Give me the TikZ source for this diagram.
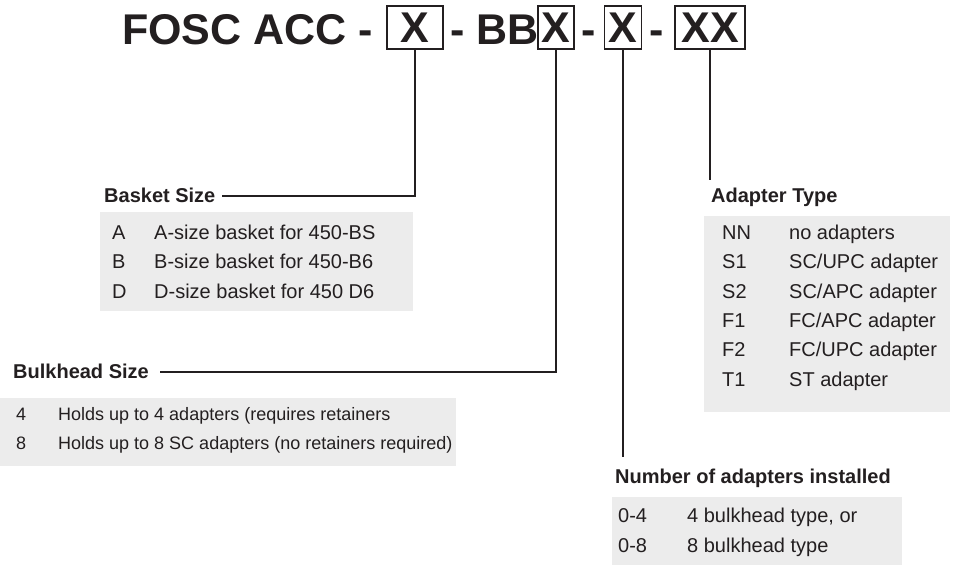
\documentclass[tikz,border=0pt]{standalone}
\usepackage{fontspec}
\setmainfont{Liberation Sans}
\usetikzlibrary{calc}
\definecolor{txt}{HTML}{231F20}
\definecolor{graybg}{HTML}{ECECEC}
\begin{document}
\begin{tikzpicture}[x=1pt,y=-1pt,
  title/.style={inner sep=0pt, text=txt, font=\fontsize{43}{43}\selectfont\bfseries},
  xbox/.style={title, draw=txt, line width=1.3pt, minimum height=43pt, anchor=center},
  head/.style={inner sep=0pt, text=txt, font=\fontsize{20}{20}\selectfont\bfseries, anchor=base west},
  body/.style={inner sep=0pt, text=txt, font=\fontsize{20}{20}\selectfont, anchor=base west},
  smallbody/.style={body, font=\fontsize{18}{18}\selectfont},
  panel/.style={fill=graybg, draw=none, inner sep=0pt, anchor=north west},
  conn/.style={draw=txt, line width=1.1pt}]
\useasboundingbox (0,0) rectangle (954,565);
% title
\node[title, anchor=base west] (t1) at (122,44) {FOSC ACC -};
\node[xbox, minimum width=56pt] (b1) at (415,27.5) {X};
\node[title, anchor=base east] (t2) at (539,44) {- BB};
\node[xbox, minimum width=36pt] (b2) at (556,27.5) {X};
\node[title, anchor=base] (t3) at (589,44) {-};
\node[xbox, minimum width=37pt] (b3) at (623,27.5) {X};
\node[title, anchor=base] (t4) at (657,44) {-};
\node[xbox, minimum width=70pt] (b4) at (710,27.5) {XX};
% panels
\node[panel, minimum width=313pt, minimum height=99pt] (pbasket) at (100,212) {};
\node[panel, minimum width=456pt, minimum height=68pt] (pbulk) at (0,398) {};
\node[panel, minimum width=246pt, minimum height=196pt] (padapt) at (704,216) {};
\node[panel, minimum width=290pt, minimum height=68pt] (pnum) at (612,497) {};
% headings
\node[head] (hbasket) at (104,202) {Basket Size};
\node[head] (hbulk) at (13,378) {Bulkhead Size};
\node[head] (hadapt) at (711,202) {Adapter Type};
\node[head] (hnum) at (615,483) {Number of adapters installed};
% connectors
\coordinate (c1) at (222,196);
\coordinate (c2) at (160,372);
\coordinate (c3) at (623,457);
\coordinate (c4) at (710,180);
\draw[conn] (b1.south) |- (c1);
\draw[conn] (b2.south) |- (c2);
\draw[conn] (b3.south) -- (c3);
\draw[conn] (b4.south) -- (c4);
% basket rows
\node[body] (ba1) at (112,239) {A};
\node[body] (ba2) at (154,239) {A-size basket for 450-BS};
\node[body] (bb1) at (112,268.5) {B};
\node[body] (bb2) at (154,268.5) {B-size basket for 450-B6};
\node[body] (bd1) at (112,298) {D};
\node[body] (bd2) at (154,298) {D-size basket for 450 D6};
% bulkhead rows
\node[smallbody] (k41) at (16,420) {4};
\node[smallbody] (k42) at (58,420) {Holds up to 4 adapters (requires retainers};
\node[smallbody] (k81) at (16,449) {8};
\node[smallbody] (k82) at (58,449) {Holds up to 8 SC adapters (no retainers required)};
% adapter rows
\node[body] (a11) at (722,239) {NN};
\node[body] (a12) at (789,239) {no adapters};
\node[body] (a21) at (722,268.5) {S1};
\node[body] (a22) at (789,268.5) {SC/UPC adapter};
\node[body] (a31) at (722,298) {S2};
\node[body] (a32) at (789,298) {SC/APC adapter};
\node[body] (a41) at (722,327) {F1};
\node[body] (a42) at (789,327) {FC/APC adapter};
\node[body] (a51) at (722,356.5) {F2};
\node[body] (a52) at (789,356.5) {FC/UPC adapter};
\node[body] (a61) at (722,386) {T1};
\node[body] (a62) at (789,386) {ST adapter};
% number rows
\node[body] (n11) at (618,522) {0-4};
\node[body] (n12) at (687,522) {4 bulkhead type, or};
\node[body] (n21) at (618,552) {0-8};
\node[body] (n22) at (687,552) {8 bulkhead type};
\end{tikzpicture}
\end{document}
